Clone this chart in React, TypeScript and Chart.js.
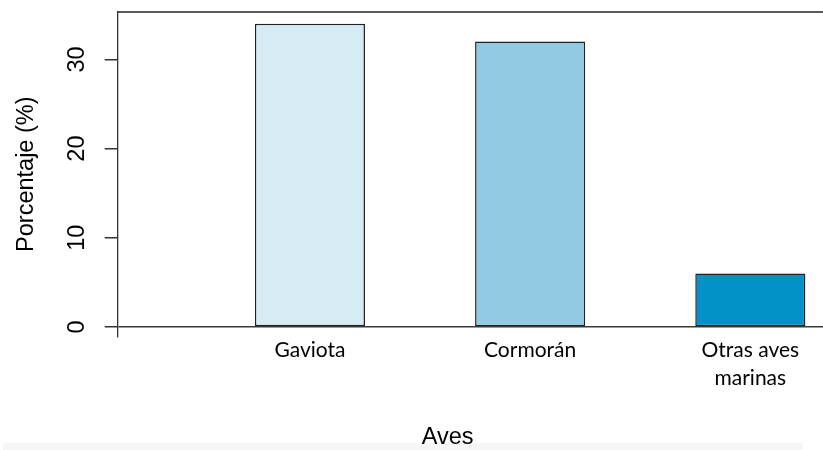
import React, { useEffect, useRef } from "react";
import { Chart, registerables } from "chart.js";

Chart.register(...registerables);

// ---- data ----
const categories = ["Gaviota", "Cormorán", "Otras aves marinas"];
const xTickLabels = [["Gaviota"], ["Cormorán"], ["Otras aves", "marinas"]];
const percentages = [34, 32, 6];
const barColors = ["#d7ebf5", "#92cae4", "#0491c8"];
const yTicks = [0, 10, 20, 30];
const yTitle = "Porcentaje (%)";
const xTitle = "Aves";

const rFont = "'Liberation Sans', Arial, Helvetica, sans-serif";

const rTextPlugin = {
  id: "rText",
  afterDraw(chart: any) {
    const ctx = chart.ctx as CanvasRenderingContext2D;
    const yScale = chart.scales.y;
    const area = chart.chartArea;
    ctx.save();
    ctx.fillStyle = "#000";
    ctx.textAlign = "center";
    ctx.textBaseline = "middle";
    ctx.font = `23.5px ${rFont}`;
    yTicks.forEach((v) => {
      const py = yScale.getPixelForValue(v);
      ctx.save();
      ctx.translate(area.left - 40, py);
      ctx.rotate(-Math.PI / 2);
      ctx.fillText(String(v), 0, 0);
      ctx.restore();
    });
    ctx.save();
    ctx.translate(area.left - 91, (area.top + area.bottom) / 2);
    ctx.rotate(-Math.PI / 2);
    ctx.fillText(yTitle, 0, 0);
    ctx.restore();
    ctx.fillText(xTitle, area.left + 330, area.bottom + 101);
    ctx.restore();
  },
};

export default function App() {
  const ref = useRef<HTMLCanvasElement | null>(null);

  useEffect(() => {
    if (!ref.current) return;
    const chart = new Chart(ref.current, {
      type: "bar",
      data: {
        datasets: [
          {
            label: "Porcentaje",
            data: categories.map((_, i) => ({ x: i, y: percentages[i] })),
            backgroundColor: barColors,
            borderColor: "#222",
            borderWidth: 1.5,
            borderSkipped: false,
            categoryPercentage: 1,
            barPercentage: 0.5,
          },
        ],
      },
      options: {
        animation: false,
        responsive: true,
        maintainAspectRatio: false,
        layout: { padding: { top: 11.7, left: 0, right: 0, bottom: 0 } },
        plugins: {
          legend: { display: false },
          tooltip: { enabled: false },
        },
        scales: {
          x: {
            type: "linear",
            position: "bottom",
            offset: false,
            min: -0.873,
            max: 2.33,
            afterBuildTicks: (s: any) => {
              s.ticks = categories.map((_, i) => ({ value: i }));
            },
            afterFit: (s: any) => {
              s.height = 113.3;
            },
            grid: { display: false, drawTicks: false },
            border: { display: false },
            ticks: {
              autoSkip: false,
              maxRotation: 0,
              minRotation: 0,
              padding: 0,
              color: "#000",
              font: { family: "Lato, 'Open Sans', sans-serif", size: 21, lineHeight: 1.333 },
              callback: (_v: any, i: number) => xTickLabels[i],
            },
          },
          x2: {
            type: "linear",
            position: "top",
            display: true,
            offset: false,
            grid: { display: false, drawTicks: false },
            ticks: { display: false },
            border: { display: true, color: "#5a5a5a", width: 2 },
            afterFit: (s: any) => {
              s.height = 0;
            },
          },
          y: {
            type: "linear",
            min: -1.09,
            max: 35.35,
            afterBuildTicks: (s: any) => {
              s.ticks = yTicks.map((v) => ({ value: v }));
            },
            afterFit: (s: any) => {
              s.width = 117.7;
            },
            ticks: { display: false },
            grid: {
              drawTicks: true,
              tickLength: 13,
              lineWidth: 1.5,
              color: (c: any) => (c.tick && c.tick.value === 0 ? "#3a3a3a" : "rgba(0,0,0,0)"),
              tickColor: "#333",
            },
            border: { display: true, color: "#333", width: 1.3 },
          },
        },
      },
      plugins: [rTextPlugin],
    } as any);
    return () => chart.destroy();
  }, []);

  return (
    <div style={{ position: "absolute", left: 0, top: 0, width: 823, height: 450, background: "#fff" }}>
      <div style={{ position: "absolute", left: 3, top: 443, width: 800, height: 7, background: "#f6f6f6" }} />
      <div style={{ position: "absolute", left: 0, top: 0, width: 823, height: 450 }}>
        <canvas ref={ref} />
      </div>
    </div>
  );
}
